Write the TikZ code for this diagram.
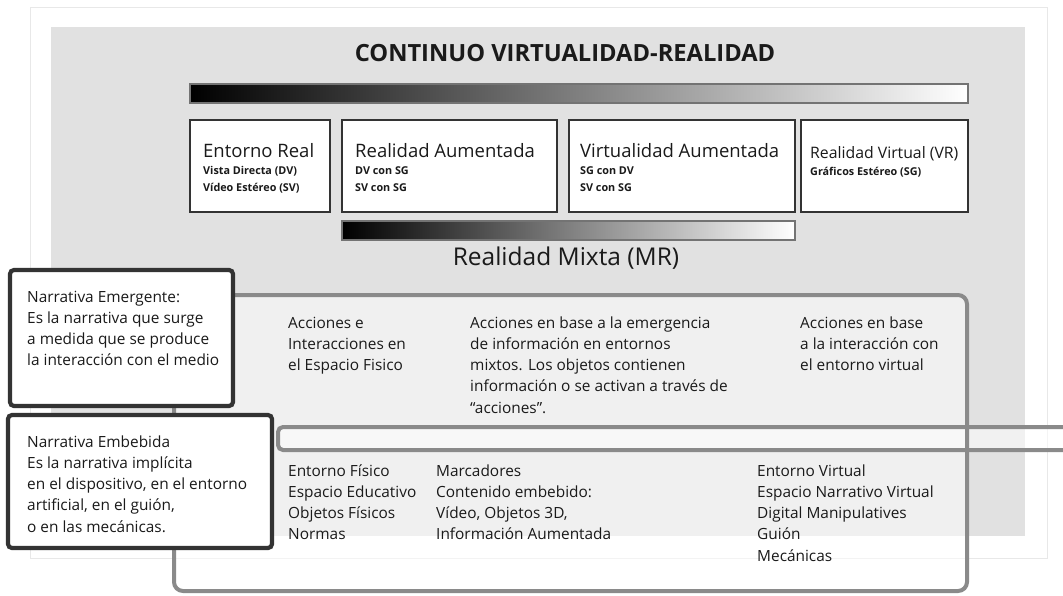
\documentclass[tikz,border=0pt]{standalone}
\usepackage{fontspec}
\setmainfont{Open Sans}
\definecolor{panel}{HTML}{E1E1E1}
\definecolor{frame}{HTML}{E8E8E8}
\definecolor{txt}{HTML}{1A1A1A}
\definecolor{boxline}{HTML}{333333}
\definecolor{mrline}{HTML}{8A8A8A}
\definecolor{narline}{HTML}{333333}
\begin{document}
\begin{tikzpicture}[x=1pt,y=-1pt,
  body/.style={anchor=base west, inner sep=0pt, align=left, text=txt, font=\fontsize{15.4}{21.3}\selectfont},
  head/.style={anchor=base west, inner sep=0pt, text=txt, font=\fontsize{18.5}{22}\selectfont},
  sub/.style={anchor=base west, inner sep=0pt, align=left, text=txt, font=\bfseries\fontsize{10.8}{16.5}\selectfont},
  topbox/.style={draw=boxline, line width=1.3pt, fill=white, inner sep=0pt},
  gbar/.style={draw=black!55, line width=1.2pt, left color=black, right color=white, inner sep=0pt},
  narbox/.style={draw=narline, line width=4.2pt, fill=white, rounded corners=4pt, inner sep=0pt}
]
\useasboundingbox (0,0) rectangle (1063,595);
% background frame and panel
\node[draw=frame, line width=1pt, fill=white, minimum width=1017, minimum height=551, inner sep=0pt] (frm) at (538.5,282.5) {};
\node[fill=panel, minimum width=974, minimum height=509, inner sep=0pt] (pnl) at (538,281.5) {};
% title
\node[anchor=base, inner sep=0pt, text=txt, font=\bfseries\fontsize{23.7}{28}\selectfont] (title) at (565,61) {CONTINUO VIRTUALIDAD-REALIDAD};
% gradient bars
\node[gbar, minimum width=778, minimum height=19] (bar1) at (579,93.5) {};
\node[gbar, minimum width=453, minimum height=19] (bar2) at (568.5,230.5) {};
\node[anchor=base, inner sep=0pt, text=txt, font=\fontsize{24.5}{28}\selectfont] (mixta) at (566,265) {Realidad Mixta (MR)};
% top boxes
\node[topbox, minimum width=140, minimum height=92] (b1) at (260,166) {};
\node[topbox, minimum width=215, minimum height=92] (b2) at (449.5,166) {};
\node[topbox, minimum width=226, minimum height=92] (b3) at (682,166) {};
\node[topbox, minimum width=167, minimum height=92] (b4) at (884.5,166) {};
\node[head] (h1) at (203,157) {Entorno Real};
\node[sub] (s1) at (203,191) {Vista Directa (DV)\\Vídeo Estéreo (SV)};
\node[head] (h2) at (355,157) {Realidad Aumentada};
\node[sub] (s2) at (355,191) {DV con SG\\SV con SG};
\node[head] (h3) at (580,157) {Virtualidad Aumentada};
\node[sub] (s3) at (580,191) {SG con DV\\SV con SG};
\node[head, font=\fontsize{15.8}{20}\selectfont] (h4) at (810,158) {Realidad Virtual (VR)};
\node[sub] (s4) at (810,175) {Gráficos Estéreo (SG)};
% mixed reality rounded box
\node[fill=white, fill opacity=0.5, minimum width=793, minimum height=296, rounded corners=9pt, inner sep=0pt] (mrfill) at (570.5,443) {};
\draw[draw=mrline, line width=4pt, fill=white, fill opacity=0.55, draw opacity=1, rounded corners=5pt] (1075,427) -- (278,427) -- (278,450) -- (1075,450);
\node[draw=mrline, line width=4pt, minimum width=793, minimum height=296, rounded corners=9pt, inner sep=0pt] (mr) at (570.5,443) {};
% narrative boxes
\node[narbox, minimum width=223, minimum height=136] (emer) at (121.5,338) {};
\node[narbox, minimum width=264, minimum height=133] (embe) at (140,481.5) {};
\node[body] (temer) at (27,365.9) {Narrativa Emergente:\\Es la narrativa que surge\\a medida que se produce\\la interacción con el medio};
\node[body] (tembe) at (27,532.2) {Narrativa Embebida\\Es la narrativa implícita\\en el dispositivo, en el entorno\\artificial, en el guión,\\o en las mecánicas.};
% upper texts
\node[body] (u1) at (288,370.6) {Acciones e\\Interacciones en\\el Espacio Fisico};
\node[body] (u2) at (470,413.2) {Acciones en base a la emergencia\\de información en entornos\\mixtos. Los objetos contienen\\información o se activan a través de\\“acciones”.};
\node[body] (u3) at (800,370.6) {Acciones en base\\a la interacción con\\el entorno virtual};
% lower texts
\node[body] (l1) at (288,539.9) {Entorno Físico\\Espacio Educativo\\Objetos Físicos\\Normas};
\node[body] (l2) at (436,539.9) {Marcadores\\Contenido embebido:\\Vídeo, Objetos 3D,\\Información Aumentada};
\node[body] (l3) at (757,561.2) {Entorno Virtual\\Espacio Narrativo Virtual\\Digital Manipulatives\\Guión\\Mecánicas};
\end{tikzpicture}
\end{document}
